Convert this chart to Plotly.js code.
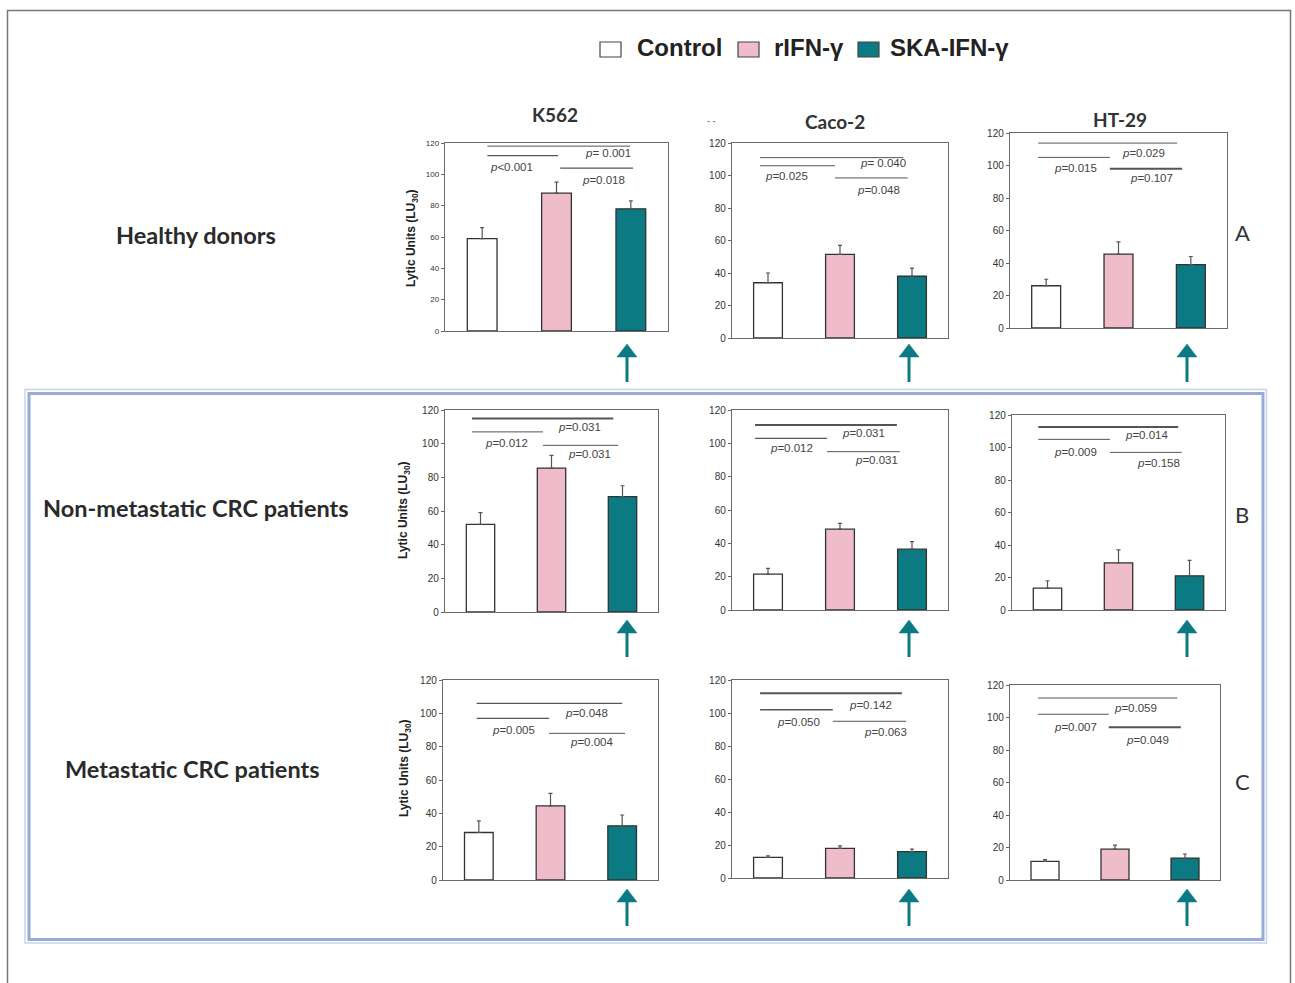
<!DOCTYPE html>
<html>
<head>
<meta charset="utf-8">
<script src="https://cdn.plot.ly/plotly-3.0.1.min.js"></script>
<style>
  html, body { margin: 0; padding: 0; background: #fff; }
  #chart { width: 1295px; height: 983px; }
</style>
</head>
<body>
<div id="chart"></div>
<script>
// ---- data ----
const cellLines = ['K562', 'Caco-2', 'HT-29'];
const groups = ['Healthy donors', 'Non-metastatic CRC patients', 'Metastatic CRC patients'];
const groupLetters = ['A', 'B', 'C'];
const treatments = ['Control', 'rIFN-γ', 'SKA-IFN-γ'];

// mean lytic units (LU30), one row per cell line: [Control, rIFN-γ, SKA-IFN-γ]
const healthyLU = [[59, 88, 78], [34, 51.5, 38], [26, 45.5, 39]];
const nonMetLU  = [[52, 85.5, 68.5], [21.5, 48.5, 36.5], [13.5, 29, 21]];
const metLU     = [[28.5, 44.5, 32.5], [12.5, 18, 16], [11.5, 19, 13.5]];

// upper error (SEM)
const healthySEM = [[7, 7, 5], [6, 5.5, 5], [4, 7.5, 5]];
const nonMetSEM  = [[7, 7.5, 6.5], [3.5, 3.5, 4.5], [4.5, 8, 9.5]];
const metSEM     = [[7, 7.5, 6.5], [1, 1.5, 1.5], [1, 2.5, 2.5]];

// p values: [Control vs rIFN-γ, Control vs SKA-IFN-γ, rIFN-γ vs SKA-IFN-γ]
const healthyP = [['<0.001', '= 0.001', '=0.018'], ['=0.025', '= 0.040', '=0.048'], ['=0.015', '=0.029', '=0.107']];
const nonMetP  = [['=0.012', '=0.031', '=0.031'], ['=0.012', '=0.031', '=0.031'], ['=0.009', '=0.014', '=0.158']];
const metP     = [['=0.005', '=0.048', '=0.004'], ['=0.050', '=0.142', '=0.063'], ['=0.007', '=0.059', '=0.049']];

const groupLU  = [healthyLU, nonMetLU, metLU];
const groupSEM = [healthySEM, nonMetSEM, metSEM];
const groupP   = [healthyP, nonMetP, metP];

// ---- page geometry (pixels) ----
const W = 1295, H = 983;
const fx = px => px / W;
const fy = py => 1 - py / H;

// plot boxes [left, right, top, bottom]
const boxes = [
  [[445, 668, 143, 331], [732, 948, 143, 338], [1010, 1227, 133, 328]],
  [[445, 658, 410, 612], [732, 948, 410, 610], [1012, 1225, 415, 610]],
  [[443, 658, 680, 880], [732, 948, 680, 878], [1010, 1220, 685, 880]]
];

// comparison brackets per panel:
// spans {top:[x0,x1], left:[x0,x1], right:[x0,x1]}, levels [top,left,right],
// label anchors [[x,y] left, [x,y] top, [x,y] right], line widths [top,left,right]
const brackets = [
  [
    {top: [0.07, 1.99], left: [0.07, 1.02], right: [1.05, 2.03], lv: [118, 112, 104],
     lab: [[0.40, 104.7], [1.69, 113.6], [1.63, 96.4]], lw: [1, 1.2, 1.2]},
    {top: [-0.11, 1.88], left: [-0.11, 0.93], right: [0.93, 1.94], lv: [111, 106, 98.5],
     lab: [[0.26, 99.7], [1.60, 107.7], [1.53, 91]], lw: [1, 1, 1]},
    {top: [-0.11, 1.81], left: [-0.11, 0.88], right: [0.88, 1.88], lv: [113.8, 105, 98],
     lab: [[0.40, 98.7], [1.34, 107.7], [1.46, 92.3]], lw: [1, 1, 1.8]}
  ],
  [
    {top: [-0.12, 1.87], left: [-0.12, 0.88], right: [0.88, 1.94], lv: [115, 107, 99],
     lab: [[0.37, 100.4], [1.40, 110], [1.54, 93.9]], lw: [2, 1, 1]},
    {top: [-0.18, 1.79], left: [-0.18, 0.82], right: [0.82, 1.83], lv: [111, 103, 95],
     lab: [[0.33, 97], [1.32, 106], [1.51, 90]], lw: [2, 1.2, 1]},
    {top: [-0.13, 1.84], left: [-0.13, 0.88], right: [0.88, 1.89], lv: [112.6, 105, 97],
     lab: [[0.39, 97], [1.40, 107.7], [1.56, 90.5]], lw: [2, 1, 1]}
  ],
  [
    {top: [-0.03, 2.0], left: [-0.03, 0.98], right: [0.98, 2.04], lv: [106, 97, 88],
     lab: [[0.49, 90], [1.50, 100], [1.58, 83]], lw: [1.2, 1.2, 1]},
    {top: [-0.11, 1.86], left: [-0.11, 0.90], right: [0.90, 1.92], lv: [112, 102, 95],
     lab: [[0.42, 94.5], [1.42, 104.8], [1.63, 88.5]], lw: [2, 1.6, 1]},
    {top: [-0.10, 1.89], left: [-0.10, 0.91], right: [0.91, 1.94], lv: [112, 102, 94],
     lab: [[0.43, 94], [1.29, 105.8], [1.47, 86]], lw: [1, 1, 1.8]}
  ]
];

// arrows under the SKA-IFN-γ bars: column x, and per row [tip, head base, tail] (pixels)
const arrowCols = [627, 909, 1187];
const arrowRows = [[344, 357, 382], [620, 633, 657], [889, 902, 926]];

const barColors = ['#ffffff', '#efbdc9', '#0b7a83'];
const teal = '#0b7a83';
const pFont = {family: 'Liberation Sans, Arial, sans-serif', size: 11.5, color: '#444'};

const traces = [];
const layout = {
  width: W, height: H,
  margin: {l: 0, r: 0, t: 0, b: 0},
  paper_bgcolor: '#ffffff',
  plot_bgcolor: '#ffffff',
  showlegend: false,
  annotations: [],
  shapes: []
};

const esc = s => s.replace(/</g, '&lt;');

for (let r = 0; r < 3; r++) {
  for (let c = 0; c < 3; c++) {
    const k = r * 3 + c + 1;
    const xa = 'x' + (k === 1 ? '' : k);
    const ya = 'y' + (k === 1 ? '' : k);
    const [L, R, T, B] = boxes[r][c];

    traces.push({
      type: 'bar',
      x: treatments,
      y: groupLU[r][c],
      width: 0.4,
      xaxis: xa, yaxis: ya,
      marker: {color: barColors, line: {color: '#333', width: 1.3}},
      error_y: {
        type: 'data', symmetric: false,
        array: groupSEM[r][c],
        arrayminus: [0, 0, 0],
        color: '#555', thickness: 1.2, width: 2
      },
      hoverinfo: 'x+y'
    });

    const axX = 'xaxis' + (k === 1 ? '' : k);
    const axY = 'yaxis' + (k === 1 ? '' : k);
    layout[axX] = {
      domain: [fx(L), fx(R)],
      anchor: ya,
      type: 'category',
      range: [-0.5, 2.5],
      showticklabels: false,
      ticks: '',
      showgrid: false,
      zeroline: false,
      showline: true, mirror: true,
      linecolor: '#6b6b6b', linewidth: 1.2,
      fixedrange: true
    };
    layout[axY] = {
      domain: [fy(B), fy(T)],
      anchor: xa,
      range: [0, 120],
      dtick: 20,
      ticks: 'outside', ticklen: 3, tickcolor: '#666', tickwidth: 1,
      tickfont: {family: 'Liberation Sans, Arial, sans-serif', size: (r === 0 && c === 0) ? 8 : 10, color: '#333'},
      showgrid: false,
      zeroline: false,
      showline: true, mirror: true,
      linecolor: '#6b6b6b', linewidth: 1.2,
      fixedrange: true
    };

    // comparison brackets and p labels
    const br = brackets[r][c];
    const spans = [br.top, br.left, br.right];
    spans.forEach((sp, j) => {
      layout.shapes.push({
        type: 'line', xref: xa, yref: ya,
        x0: sp[0], x1: sp[1], y0: br.lv[j], y1: br.lv[j],
        line: {color: '#555', width: br.lw[j]}
      });
    });
    // label order in p arrays: [left, top, right]
    groupP[r][c].forEach((p, j) => {
      layout.annotations.push({
        xref: xa, yref: ya, x: br.lab[j][0], y: br.lab[j][1],
        text: '<i>p</i>' + esc(p), showarrow: false,
        font: pFont, xanchor: 'center', yanchor: 'middle'
      });
    });

    // arrow pointing up at the SKA-IFN-γ bar
    const [tip, base, tail] = arrowRows[r];
    const ax = arrowCols[c];
    layout.shapes.push({
      type: 'line', xref: 'paper', yref: 'paper',
      x0: fx(ax), x1: fx(ax), y0: fy(tail), y1: fy(base),
      line: {color: teal, width: 3}
    });
    layout.shapes.push({
      type: 'path', xref: 'paper', yref: 'paper',
      path: `M ${fx(ax - 10)},${fy(base)} L ${fx(ax)},${fy(tip)} L ${fx(ax + 10)},${fy(base)} Z`,
      fillcolor: teal, line: {color: teal, width: 0.5}
    });
  }
}

// column titles
const colTitlePos = [[555, 115], [835, 121], [1120, 120]];
cellLines.forEach((name, c) => {
  layout.annotations.push({
    xref: 'paper', yref: 'paper', x: fx(colTitlePos[c][0]), y: fy(colTitlePos[c][1]),
    text: '<b>' + name + '</b>', showarrow: false,
    font: {family: 'Lato, sans-serif', size: 19, color: '#333'},
    xanchor: 'center', yanchor: 'middle'
  });
});

// row labels and letters
const rowLabelPos = [[196, 235], [196, 508], [192, 769]];
const letterY = [233, 514, 781];
groups.forEach((name, r) => {
  layout.annotations.push({
    xref: 'paper', yref: 'paper', x: fx(rowLabelPos[r][0]), y: fy(rowLabelPos[r][1]),
    text: '<b>' + name + '</b>', showarrow: false,
    font: {family: 'Lato, sans-serif', size: 23.5, color: '#2a2a2a'},
    xanchor: 'center', yanchor: 'middle'
  });
  layout.annotations.push({
    xref: 'paper', yref: 'paper', x: fx(1242), y: fy(letterY[r]),
    text: groupLetters[r], showarrow: false,
    font: {family: 'Lato, sans-serif', size: 22, color: '#333'},
    xanchor: 'center', yanchor: 'middle'
  });
});

// y-axis titles on the first column
const yTitlePos = [[412, 238], [404, 510], [405, 768]];
yTitlePos.forEach(p => {
  layout.annotations.push({
    xref: 'paper', yref: 'paper', x: fx(p[0]), y: fy(p[1]),
    text: '<b>Lytic Units (LU<sub>30</sub>)</b>', showarrow: false, textangle: -90,
    font: {family: 'Liberation Sans, Arial, sans-serif', size: 12, color: '#222'},
    xanchor: 'center', yanchor: 'middle'
  });
});

// small dash mark beside the Caco-2 title
layout.annotations.push({
  xref: 'paper', yref: 'paper', x: fx(711), y: fy(121),
  text: '‐ ‐', showarrow: false,
  font: {family: 'Liberation Sans, Arial, sans-serif', size: 9, color: '#555'},
  xanchor: 'center', yanchor: 'middle'
});

// legend (swatches + labels)
const legendItems = [[600, 635], [738, 772], [858, 888]];
treatments.forEach((t, i) => {
  const [sx, tx] = legendItems[i];
  layout.shapes.push({
    type: 'rect', xref: 'paper', yref: 'paper',
    x0: fx(sx), x1: fx(sx + 21), y0: fy(57), y1: fy(42),
    fillcolor: barColors[i], line: {color: '#444', width: 1.2}
  });
  layout.annotations.push({
    xref: 'paper', yref: 'paper', x: fx(tx), y: fy(48),
    text: '<b>' + t + '</b>', showarrow: false,
    font: {family: 'Liberation Sans, Arial, sans-serif', size: 24, color: '#222'},
    xanchor: 'left', yanchor: 'middle'
  });
});

// outer frame (open at the bottom)
layout.shapes.push({
  type: 'path', xref: 'paper', yref: 'paper',
  path: `M ${fx(7.5)},${fy(983)} L ${fx(7.5)},${fy(10.5)} L ${fx(1290.5)},${fy(10.5)} L ${fx(1290.5)},${fy(983)}`,
  line: {color: '#777', width: 1.5}
});

// blue box around the patient rows
layout.shapes.push({
  type: 'rect', xref: 'paper', yref: 'paper',
  x0: fx(25), x1: fx(1266.5), y0: fy(943), y1: fy(389.5),
  line: {color: '#c9d4ec', width: 1.5}
});
layout.shapes.push({
  type: 'rect', xref: 'paper', yref: 'paper',
  x0: fx(29), x1: fx(1263), y0: fy(939.5), y1: fy(393.5),
  line: {color: '#96abd6', width: 3}
});

Plotly.newPlot('chart', traces, layout, {displayModeBar: false, staticPlot: true});
</script>
</body>
</html>
